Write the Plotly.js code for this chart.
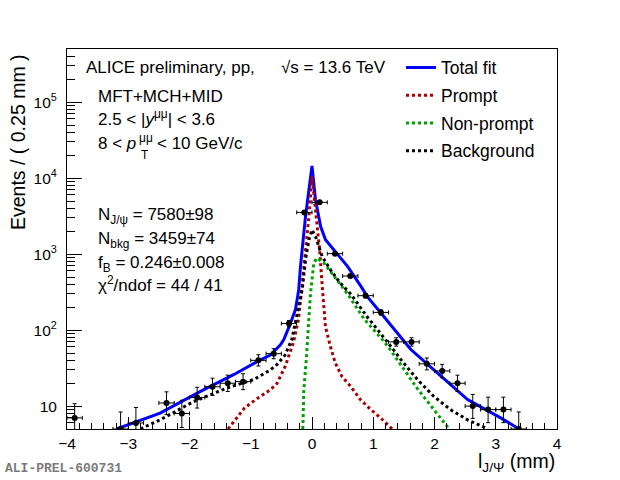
<!DOCTYPE html>
<html><head><meta charset="utf-8">
<script src="https://cdn.plot.ly/plotly-3.0.1.min.js"></script>
<style>html,body{margin:0;padding:0;background:#fff}</style>
</head><body><div id="chart" style="width:620px;height:480px"></div>
<script>
// ---- data ----
const binCenters = [-3.875,-3.125,-2.875,-2.375,-2.125,-1.875,-1.625,-1.375,-1.125,-0.875,-0.625,-0.375,-0.125,0.125,0.375,0.625,0.875,1.125,1.375,1.625,1.875,2.125,2.375,2.625,2.875,3.125,3.375];
const counts     = [7,5,6,11,8,13,18,20,21,40,49,122,3540,4800,1014,515,284,171,70,70,36,29,20,10,9,9,5];
const errLow     = [2.58,2.16,2.38,3.27,2.77,3.57,4.21,4.43,4.54,6.3,7.0,11.0,59.5,69.3,31.8,22.7,16.9,13.1,8.4,8.4,6.0,5.4,4.43,3.11,2.94,2.94,2.16];
const errHigh    = [3.77,3.38,3.58,4.42,3.95,4.70,5.31,5.54,5.65,7.4,8.0,12.0,60.5,70.3,32.8,23.7,17.9,14.1,9.4,9.4,7.0,6.4,5.54,4.27,4.11,4.11,3.38];
const binHalfWidth = 0.125;

const totalX = [-3.19,-2.48,-1.82,-1.66,-1.28,-0.84,-0.68,-0.515,-0.46,-0.35,-0.27,-0.217,-0.188,-0.106,0,0.057,0.14,0.22,0.36,0.58,0.8,0.9,1.175,1.61,1.99,2.54,3.08,3.38];
const totalY = [5,8.1,15.6,18.2,25.9,40.7,47,64,75,124,186,340,689,3130,14500,5200,2320,1550,1140,689,376,278,150,56,30,12.2,7,5];

const promptX = [-1.37,-1.1,-0.9,-0.68,-0.57,-0.44,-0.3,-0.22,-0.16,-0.106,-0.05,0,0.07,0.125,0.17,0.22,0.3,0.38,0.49,0.63,0.79,0.96,1.12,1.31];
const promptY = [5,9.5,12.5,16.4,20,33,70,140,400,1140,3130,10500,3130,1140,350,110,61,37,24.5,18.2,12.2,9,7,5];

const nonPromptX = [-0.15,-0.134,-0.09,-0.05,-0.025,0.03,0.08,0.195,0.36,0.58,0.85,1.01,1.15,1.28,1.45,1.58,1.72,1.99,2.24];
const nonPromptY = [5,16,45,124,300,764,890,764,509,300,140,101,75,55,35,24.5,17,9,5];

const bkgX = [-2.8,-2.48,-1.93,-1.39,-0.95,-0.68,-0.575,-0.44,-0.33,-0.217,-0.16,-0.106,-0.05,0,0.057,0.165,0.3,0.46,0.63,0.9,1.1,1.31,1.45,1.72,1.99,2.26,2.54,2.87];
const bkgY = [5,6.6,11.5,17.3,22.4,30,35,47,75,205,340,845,1550,2090,1710,933,624,417,300,150,95,58,41,22.4,13.4,9,6.6,5];

const xTickVals = [-4,-3,-2,-1,0,1,2,3,4];
const xTickText = ['\u22124','\u22123','\u22122','\u22121','0','1','2','3','4'];
const yTickVals = [10,100,1000,10000,100000];
const yTickText = ['10','10<sup>2</sup>','10<sup>3</sup>','10<sup>4</sup>','10<sup>5</sup>'];

// ---- drawing ----
const FONT = 'Liberation Sans, Arial, Helvetica, sans-serif';
const W = 620, H = 480, L = 67, R = 63, T = 49, B = 51;
const pw = W - L - R, ph = H - T - B;
const px = x => (x - L) / pw;
const py = y => (H - B - y) / ph;

const yMinor = [6, 7, 8, 9];
for (let d = 1; d <= 5; d++) for (let k = 2; k <= 9; k++) { const v = k * Math.pow(10, d); if (v < 5e5) yMinor.push(v); }

const dotted = '3px,3px';
const traces = [
  {x: totalX, y: totalY, mode: 'lines', name: 'Total fit', legendgroup: 'a',
   line: {color: '#0000ff', width: 3}},
  {x: promptX, y: promptY, mode: 'lines', name: 'Prompt', legendgroup: 'b',
   line: {color: '#a80000', width: 3, dash: dotted}},
  {x: nonPromptX, y: nonPromptY, mode: 'lines', name: 'Non-prompt', legendgroup: 'c',
   line: {color: '#00a000', width: 3, dash: dotted}},
  {x: bkgX, y: bkgY, mode: 'lines', name: 'Background', legendgroup: 'd',
   line: {color: '#000000', width: 3, dash: dotted}},
  {x: binCenters, y: counts, mode: 'markers', showlegend: false,
   marker: {color: '#000', size: 6},
   error_x: {type: 'constant', value: binHalfWidth, color: '#000', thickness: 1, width: 2},
   error_y: {type: 'data', symmetric: false, array: errHigh, arrayminus: errLow, color: '#000', thickness: 1, width: 2}}
];

const TS = 17;
const ann = (text, x, y, opts = {}) => Object.assign({
  text, xref: 'paper', yref: 'paper', x: px(x), y: py(y), xanchor: 'left', yanchor: 'middle',
  showarrow: false, borderpad: 0, font: {family: FONT, size: TS, color: '#000'}
}, opts);
const small = {family: FONT, size: 12, color: '#000'};

const annotations = [
  ann('ALICE preliminary, pp,', 85, 67.5),
  ann('\u221As = 13.6 TeV', 280, 67.5),
  ann('MFT+MCH+MID', 97, 97),
  ann('2.5 &lt; |<i>y</i><sup>\u03bc\u03bc</sup>| &lt; 3.6', 97, 118),
  ann('8 &lt;\u00a0<i>p</i>', 97, 143),
  ann('\u03bc\u03bc', 138, 138, {font: small}),
  ann('T', 139.5, 155, {font: small}),
  ann('&lt; 10 GeV/c', 156, 143),
  ann('N<sub>J/\u03c8</sub> = 7580\u00b198', 97, 216),
  ann('N<sub>bkg</sub> = 3459\u00b174', 97, 240),
  ann('f<sub>B</sub> = 0.246\u00b10.008', 97, 264),
  ann('\u03c7<sup>2</sup>/ndof = 44 / 41', 97, 284),
  ann('Events / ( 0.25 mm )', 18, 53, {xanchor: 'center', yanchor: 'top', textangle: -90, font: {family: FONT, size: 19.5, color: '#000'}}),
  ann('l<sub>J/\u03a8</sub> (mm)', 556, 462, {xanchor: 'right', font: {family: FONT, size: 19.5, color: '#000'}}),
  ann('<b>ALI-PREL-600731</b>', 4, 468, {font: {family: 'Liberation Mono, DejaVu Sans Mono, monospace', size: 13, color: '#7a7a7a'}})
];

const layout = {
  width: W, height: H,
  margin: {l: L, r: R, t: T, b: B},
  paper_bgcolor: '#fff', plot_bgcolor: '#fff',
  showlegend: true,
  legend: {x: px(401), y: py(49.5), xanchor: 'left', yanchor: 'top', bgcolor: 'rgba(0,0,0,0)',
           font: {family: FONT, size: 17.5, color: '#000'}, tracegroupgap: 2, itemwidth: 30},
  xaxis: {range: [-4, 4], tickmode: 'array', tickvals: xTickVals, ticktext: xTickText,
          ticks: 'inside', ticklen: 12, tickwidth: 1, tickcolor: '#000',
          showline: true, linecolor: '#000', linewidth: 1, mirror: true,
          showgrid: false, zeroline: false,
          tickfont: {family: FONT, size: 15.5, color: '#000'},
          minor: {ticks: 'inside', ticklen: 6, tickcolor: '#000', dtick: 0.2, tick0: 0, showgrid: false}},
  yaxis: {type: 'log', range: [Math.log10(5), Math.log10(5e5)],
          tickmode: 'array', tickvals: yTickVals, ticktext: yTickText,
          ticks: 'inside', ticklen: 15, tickwidth: 1, tickcolor: '#000',
          showline: true, linecolor: '#000', linewidth: 1, mirror: true,
          showgrid: false, zeroline: false, ticklabelstandoff: 6,
          tickfont: {family: FONT, size: 15.5, color: '#000'},
          minor: {ticks: 'inside', ticklen: 8, tickcolor: '#000', tickmode: 'array', tickvals: yMinor, showgrid: false}},
  annotations
};

Plotly.newPlot('chart', traces, layout, {displayModeBar: false, staticPlot: true});
</script></body></html>
